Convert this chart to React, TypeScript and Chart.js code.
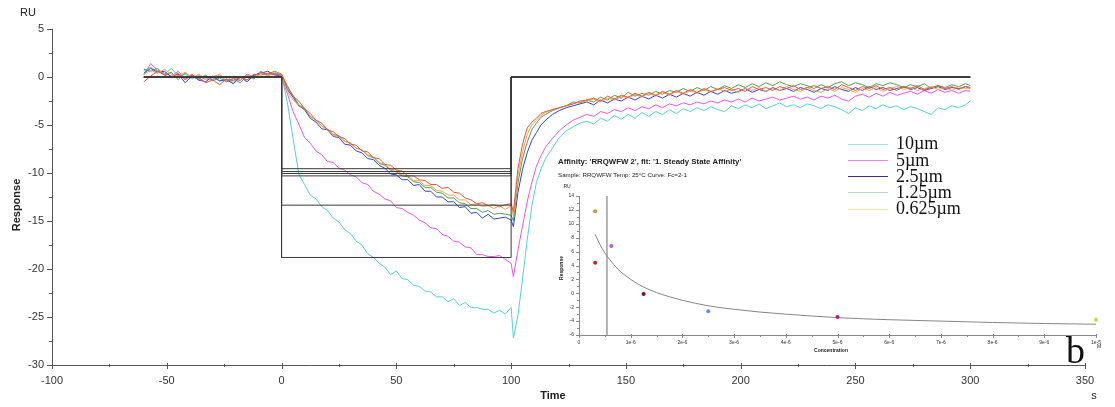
import React, { useEffect, useRef } from "react";
import { Chart, registerables } from "chart.js";
Chart.register(...registerables);

// ---------- time grid (s) ----------
function grid(start: number, end: number, step: number): number[] {
  const out: number[] = [];
  for (let v = start; v <= end + 1e-9; v += step) out.push(Math.round(v * 10) / 10);
  return out;
}
const TIME: number[] = [
  ...grid(-60, -3, 3),
  ...grid(0, 100, 2.5),
  101, 103, 105, 107, 109, 111, 113, 115, 118, 121, 124, 127, 130,
  ...grid(133, 298, 3), 300,
];

// ---------- sensorgram series (RU) ----------
const CYAN_10 = [
  0.6, 1.0, 0.6, 0.3, 0.9, 0.1, 0.3, -0.2, 0.2, -0.3, -0.1, -0.4, -0.2, -0.6, -0.1, -0.3, 0.1, 0.5, 0.2, 0.4,
  0.2, -2.6, -6.4, -10.1, -11.2, -12.3, -12.7, -13.5, -13.9, -14.7, -15.1, -15.9, -16.3, -17.1, -17.5, -18.4, -18.8, -19.4, -19.8, -20.6, -20.2, -21.0, -21.1, -21.7, -21.8, -22.3, -22.4, -22.9, -22.9, -23.4, -23.1, -23.8, -23.5, -24.0, -24.0, -24.2, -24.2, -24.6, -24.3, -24.7, -24.0,
  -27.2, -24.8, -21.0, -17.0, -13.5, -11.0, -9.6, -8.5, -7.4, -6.3, -5.6, -5.2, -4.8,
  -4.6, -4.9, -4.3, -4.6, -4.0, -4.4, -3.9, -4.3, -3.7, -4.1, -3.6, -3.9, -3.4, -3.8, -3.3, -3.6, -3.2, -3.5, -3.1, -3.4,
  -3.6, -3.0, -3.3, -2.9, -3.2, -2.8, -3.3, -3.0, -2.7, -3.1, -2.9, -3.2, -2.8, -3.0, -3.3, -2.9, -3.1, -3.4, -3.8, -3.2,
  -3.5, -3.0, -3.3, -2.9, -3.2, -3.0, -3.4, -3.1, -3.3, -3.6, -3.9, -3.2, -3.4, -3.0, -3.2, -2.9, -2.5,
];
const MAGENTA_5 = [
  0.2, 1.4, 0.7, 0.4, 0.1, 0.6, -0.2, 0.3, -0.4, 0.0, -0.3, 0.2, -0.5, -0.1, -0.4, 0.3, 0.0, 0.6, 0.2, 0.3,
  0.0, -1.7, -3.6, -4.9, -6.3, -6.9, -7.7, -8.1, -8.8, -8.9, -9.5, -9.7, -10.2, -10.4, -11.0, -11.2, -11.9, -12.2, -12.7, -12.9, -13.6, -13.7, -14.1, -14.4, -14.9, -15.2, -15.7, -15.8, -16.4, -16.6, -17.1, -17.2, -17.7, -17.8, -18.5, -18.5, -18.7, -18.7, -18.6, -19.0, -19.4,
  -20.8, -18.0, -15.5, -13.0, -11.0, -9.3, -8.2, -7.3, -6.4, -5.6, -5.0, -4.5, -4.2,
  -3.9, -4.1, -3.6, -3.8, -3.4, -3.6, -3.2, -3.5, -3.1, -3.3, -2.9, -3.2, -2.8, -3.0, -2.7, -2.9, -2.6, -2.8, -2.5, -2.7,
  -2.4, -2.6, -2.3, -2.6, -2.2, -2.5, -2.3, -2.1, -2.4, -2.2, -2.0, -2.3, -2.1, -2.4, -2.0, -2.2, -1.9, -2.3, -2.5, -2.0,
  -1.8, -2.1, -1.7, -2.0, -1.6, -1.9, -1.7, -1.5, -1.8, -1.4, -1.7, -1.3, -1.6, -1.4, -1.7, -1.4, -1.5,
];
const BLUE_2_5 = [
  0.4, 0.9, 0.5, 0.6, 0.0, 0.3, -0.6, 0.1, -0.3, -0.5, 0.1, -0.4, -0.3, -0.7, 0.0, -0.5, 0.2, 0.4, 0.6, 0.2,
  0.2, -1.3, -2.1, -3.0, -3.4, -4.3, -4.7, -5.4, -5.5, -6.2, -6.3, -7.0, -7.1, -7.7, -7.9, -8.5, -8.6, -9.2, -9.5, -10.1, -10.2, -10.7, -10.7, -11.3, -11.2, -11.9, -11.9, -12.5, -12.5, -13.0, -13.0, -13.6, -13.5, -14.2, -14.1, -14.7, -14.3, -14.8, -14.7, -14.6, -14.9,
  -15.6, -12.0, -9.6, -7.9, -6.6, -5.8, -5.0, -4.5, -3.9, -3.5, -3.2, -3.0, -2.8,
  -2.6, -2.9, -2.4, -2.7, -2.3, -2.5, -2.1, -2.4, -2.0, -2.3, -1.9, -2.2, -1.8, -2.1, -1.7, -2.0, -1.6, -1.9, -1.5, -1.8,
  -1.4, -1.7, -1.5, -1.2, -1.6, -1.3, -1.5, -1.1, -1.4, -1.2, -1.5, -1.1, -1.3, -1.6, -1.2, -1.4, -1.0, -1.3, -1.5, -1.1,
  -1.4, -1.0, -1.3, -1.1, -1.4, -1.2, -1.0, -1.3, -1.1, -1.4, -1.2, -1.0, -1.3, -1.1, -1.2, -1.0, -1.1,
];
const GREEN_1_25 = [
  0.8, 0.6, 0.9, 0.2, 0.5, -0.3, 0.4, 0.0, -0.2, 0.2, -0.4, -0.1, -0.5, -0.2, -0.6, 0.1, -0.2, 0.5, 0.3, 0.6,
  0.3, -1.1, -1.9, -2.9, -3.3, -4.1, -4.5, -5.1, -5.4, -6.0, -6.1, -6.7, -6.9, -7.4, -7.6, -8.2, -8.4, -9.0, -9.2, -9.7, -9.9, -10.3, -10.4, -10.9, -11.0, -11.5, -11.5, -12.0, -12.1, -12.6, -12.6, -13.1, -13.2, -13.7, -13.7, -14.1, -13.9, -14.3, -14.2, -14.3, -14.4,
  -15.0, -11.0, -8.5, -6.8, -5.5, -4.8, -4.2, -3.9, -3.5, -3.2, -3.0, -2.6, -2.7,
  -2.4, -2.6, -2.1, -2.4, -1.9, -2.2, -1.6, -2.0, -1.7, -1.9, -1.5, -1.8, -1.4, -1.6, -1.2, -1.5, -1.1, -1.4, -1.0, -1.3,
  -0.9, -1.2, -0.8, -1.1, -0.7, -1.0, -0.6, -0.9, -0.5, -0.8, -1.0, -0.7, -0.9, -1.2, -0.8, -1.1, -0.7, -0.5, -0.9, -0.6,
  -0.8, -1.1, -0.7, -0.9, -0.6, -0.8, -1.1, -0.8, -1.0, -0.7, -1.2, -0.9, -1.1, -0.8, -1.0, -0.7, -0.9,
];
const ORANGE_0_625 = [
  0.3, 0.7, 0.4, 0.8, 0.3, 0.1, 0.5, -0.1, 0.3, -0.2, 0.0, 0.3, -0.4, 0.1, -0.3, 0.2, -0.1, 0.4, 0.1, 0.5,
  0.2, -1.5, -2.4, -2.9, -3.2, -4.1, -4.5, -5.1, -5.5, -6.1, -6.2, -6.7, -6.9, -7.4, -7.6, -8.1, -8.3, -8.9, -9.1, -9.6, -9.7, -10.2, -10.3, -10.8, -10.8, -11.3, -11.3, -11.8, -11.9, -12.3, -12.3, -12.8, -12.8, -13.3, -13.2, -13.5, -13.4, -13.7, -13.4, -13.8, -13.4,
  -14.5, -10.2, -7.8, -6.0, -5.0, -4.5, -4.0, -3.7, -3.4, -3.2, -3.0, -2.8, -2.6,
  -2.5, -2.3, -2.6, -2.2, -2.4, -2.0, -2.2, -1.8, -2.1, -1.7, -2.0, -1.6, -1.9, -1.5, -1.8, -1.4, -1.7, -1.3, -1.6, -1.2,
  -1.5, -1.3, -1.6, -1.2, -1.4, -1.1, -1.5, -1.2, -1.4, -1.0, -1.3, -1.5, -1.1, -1.4, -1.6, -1.2, -1.5, -1.1, -1.3, -1.6,
  -1.2, -1.4, -1.1, -1.5, -1.2, -1.0, -1.3, -1.1, -1.4, -1.2, -1.0, -1.3, -1.1, -1.4, -1.0, -1.2, -1.1,
];
const RED_EXTRA = [
  -0.5, 0.1, 0.6, 0.2, -0.1, 0.4, -0.3, 0.2, -0.1, -0.6, -0.3, -0.8, -0.2, -0.4, 0.0, -0.3, 0.3, 0.2, 0.4, 0.3,
  0.3, -0.9, -2.0, -2.5, -3.3, -3.8, -4.5, -4.8, -5.5, -5.7, -6.2, -6.4, -7.0, -7.1, -7.7, -7.8, -8.4, -8.5, -9.1, -9.2, -9.7, -9.8, -10.3, -10.3, -10.7, -10.8, -11.2, -11.2, -11.6, -11.5, -12.0, -12.1, -12.6, -12.8, -13.2, -13.1, -13.4, -13.3, -13.5, -13.3, -13.2,
  -14.0, -9.5, -7.0, -5.3, -4.7, -4.3, -3.8, -3.6, -3.4, -3.2, -3.0, -2.8, -2.5,
  -2.4, -2.2, -2.5, -2.0, -2.3, -1.9, -2.1, -1.7, -2.0, -1.6, -1.9, -1.5, -1.8, -1.4, -1.7, -1.3, -1.6, -1.2, -1.5, -1.3,
  -1.1, -1.4, -1.2, -1.5, -1.0, -1.3, -1.1, -1.4, -1.0, -1.2, -0.9, -1.3, -1.1, -0.9, -1.2, -1.0, -1.3, -0.8, -1.1, -1.4,
  -1.0, -1.2, -0.9, -1.3, -1.1, -1.4, -1.0, -1.2, -0.9, -1.3, -1.1, -0.9, -1.2, -1.0, -1.3, -1.0, -1.2,
];

const SERIES = [RED_EXTRA, ORANGE_0_625, GREEN_1_25, BLUE_2_5, MAGENTA_5, CYAN_10];
const SERIES_COLORS = ["#ec5530", "#f2a24a", "#4f9e4f", "#3040d8", "#f050ee", "#4fd3d3"];

// steady-state fit levels (RU), injection start/end (s)
const FIT_LEVELS = [-9.55, -9.85, -10.05, -10.3, -13.35, -18.8];
const STEP_TIMES = [-60, 0, 0, 100, 100, 300];

// main axis ticks
const X_MINOR = [-75, -25, 25, 75, 125, 175, 225, 275, 325];
const Y_MINOR = [2.5, -2.5, -7.5, -12.5, -17.5, -22.5, -27.5];

// legend
const LEGEND_LABELS = ["10\u00b5m", "5\u00b5m", "2.5\u00b5m", "1.25\u00b5m", "0.625\u00b5m"];
const LEGEND_COLORS = ["#9fe9e4", "#f283e8", "#303094", "#b9dcc2", "#f1e1aa"];

// ---------- inset: steady state affinity ----------
const INSET_CONC = [0.3125, 0.3125, 0.625, 1.25, 2.5, 5, 10]; // µM
const INSET_RESP = [11.8, 4.4, 6.8, -0.1, -2.6, -3.4, -3.8];
const INSET_COLORS = ["#e88a30", "#e01818", "#b060e0", "#7a1020", "#5a90f0", "#d0107a", "#c8d830"];
const FIT_CONC = [0.31, 0.4, 0.5, 0.6, 0.75, 1.0, 1.25, 1.5, 2.0, 2.5, 3.0, 3.5, 4.0, 5.0, 6.0, 7.0, 8.0, 9.0, 10.0];
const FIT_RESP = [8.5, 7.1, 5.8, 4.8, 3.5, 2.0, 0.9, 0.1, -1.0, -1.8, -2.3, -2.7, -3.0, -3.5, -3.8, -4.0, -4.2, -4.35, -4.45];
const KD_CONC = 0.54;
const INSET_X_MINOR = [0.5, 1.5, 2.5, 3.5, 4.5, 5.5, 6.5, 7.5, 8.5, 9.5];
const INSET_Y_MINOR = [13, 11, 9, 7, 5, 3, 1, -1, -3, -5];

const SANS = "'Liberation Sans', Arial, sans-serif";

function tickPlugin(id: string, xMinor: number[], yMinor: number[], color: string, xMaj: [number, number], xMin: [number, number], yMaj: [number, number], yMin: [number, number]) {
  return {
    id,
    afterDraw(chart: any) {
      const { ctx, chartArea, scales } = chart;
      const xs = scales.x, ys = scales.y;
      ctx.save();
      ctx.strokeStyle = color;
      ctx.lineWidth = 1;
      ctx.beginPath();
      const b = chartArea.bottom, l = chartArea.left;
      const xl = (v: number, r: [number, number]) => {
        const px = Math.round(xs.getPixelForValue(v)) + 0.5;
        ctx.moveTo(px, b - r[0]);
        ctx.lineTo(px, b + r[1]);
      };
      const yl = (v: number, r: [number, number]) => {
        const py = Math.round(ys.getPixelForValue(v)) + 0.5;
        ctx.moveTo(l - r[1], py);
        ctx.lineTo(l + r[0], py);
      };
      xs.ticks.forEach((t: any) => xl(t.value, xMaj));
      xMinor.forEach((v) => xl(v, xMin));
      ys.ticks.forEach((t: any) => yl(t.value, yMaj));
      yMinor.forEach((v) => yl(v, yMin));
      ctx.stroke();
      ctx.restore();
    },
  };
}

const mainLabels = {
  id: "mainLabels",
  afterDraw(chart: any) {
    const ctx = chart.ctx;
    ctx.save();
    ctx.fillStyle = "#222";
    ctx.textAlign = "center";
    ctx.textBaseline = "middle";
    ctx.font = `11px ${SANS}`;
    ctx.fillText("RU", 28, 13);
    ctx.fillText("s", 1094, 396);
    ctx.font = `bold 11px ${SANS}`;
    ctx.fillText("Time", 553, 396);
    ctx.translate(17, 205);
    ctx.rotate(-Math.PI / 2);
    ctx.fillText("Response", 0, 0);
    ctx.restore();
  },
};

const insetLabels = {
  id: "insetLabels",
  afterDraw(chart: any) {
    const ctx = chart.ctx;
    ctx.save();
    ctx.fillStyle = "#222";
    ctx.textBaseline = "middle";
    ctx.textAlign = "left";
    ctx.font = `bold 7.8px ${SANS}`;
    ctx.fillText("Affinity: 'RRQWFW 2', fit: '1. Steady State Affinity'", 18, 12);
    ctx.font = `6.2px ${SANS}`;
    ctx.fillText("Sample: RRQWFW Temp: 25\u00b0C Curve: Fc=2-1", 18, 25);
    ctx.textAlign = "center";
    ctx.font = `5px ${SANS}`;
    ctx.fillText("RU", 27, 37);
    ctx.fillText("M", 559, 197);
    ctx.font = `bold 5px ${SANS}`;
    ctx.fillText("Concentration", 291, 201);
    ctx.translate(22, 118);
    ctx.rotate(-Math.PI / 2);
    ctx.fillText("Response", 0, 0);
    ctx.restore();
  },
};

export default function App() {
  const mainRef = useRef<HTMLCanvasElement>(null);
  const insetRef = useRef<HTMLCanvasElement>(null);

  useEffect(() => {
    const curveSets = SERIES.map((vals, i) => ({
      data: vals.map((v, k) => ({ x: TIME[k], y: v })),
      borderColor: SERIES_COLORS[i],
      borderWidth: 1,
      showLine: true,
      pointRadius: 0,
      order: i + 1,
    }));
    const stepSets = FIT_LEVELS.map((lvl) => ({
      data: STEP_TIMES.map((t, k) => ({ x: t, y: k === 2 || k === 3 ? lvl : 0 })),
      borderColor: "#3a3a3a",
      borderWidth: 1,
      showLine: true,
      pointRadius: 0,
      order: 0,
    }));

    const main = new Chart(mainRef.current!, {
      type: "scatter",
      data: { datasets: [...stepSets, ...curveSets] as any },
      options: {
        animation: false,
        responsive: true,
        maintainAspectRatio: false,
        events: [],
        layout: { padding: { left: 0, right: 30, top: 29, bottom: 0 } },
        plugins: { legend: { display: false }, tooltip: { enabled: false } },
        scales: {
          x: {
            type: "linear",
            min: -100,
            max: 350,
            afterFit: (s: any) => { s.height = 42; },
            grid: { display: false, drawTicks: false },
            border: { display: true, color: "#555", width: 1 },
            ticks: { stepSize: 50, padding: 9, color: "#333", font: { family: SANS, size: 11 }, maxRotation: 0, autoSkip: false },
          },
          y: {
            type: "linear",
            min: -30,
            max: 5,
            afterFit: (s: any) => { s.width = 52; },
            grid: { display: false, drawTicks: false },
            border: { display: true, color: "#555", width: 1 },
            ticks: { stepSize: 5, padding: 8, color: "#333", font: { family: SANS, size: 11 }, autoSkip: false },
          },
        },
      } as any,
      plugins: [tickPlugin("mainTicks", X_MINOR, Y_MINOR, "#555", [2, 4], [1, 2], [1, 5], [1, 3]), mainLabels],
    });

    const inset = new Chart(insetRef.current!, {
      type: "scatter",
      data: {
        datasets: [
          {
            data: INSET_CONC.map((c, i) => ({ x: c, y: INSET_RESP[i] })),
            pointBackgroundColor: INSET_COLORS,
            pointBorderColor: INSET_COLORS,
            pointRadius: 2,
            pointBorderWidth: 0,
            showLine: false,
            clip: false,
            order: 0,
          },
          {
            data: FIT_CONC.map((c, i) => ({ x: c, y: FIT_RESP[i] })),
            borderColor: "#858585",
            borderWidth: 1,
            showLine: true,
            pointRadius: 0,
            cubicInterpolationMode: "monotone",
            order: 1,
          },
          {
            data: [{ x: KD_CONC, y: 14 }, { x: KD_CONC, y: -6 }],
            borderColor: "#a8a8a8",
            borderWidth: 1,
            showLine: true,
            pointRadius: 0,
            order: 2,
          },
        ] as any,
      },
      options: {
        animation: false,
        responsive: true,
        maintainAspectRatio: false,
        events: [],
        layout: { padding: { left: 0, right: 14, top: 46, bottom: 0 } },
        plugins: { legend: { display: false }, tooltip: { enabled: false } },
        scales: {
          x: {
            type: "linear",
            min: 0,
            max: 10,
            afterFit: (s: any) => { s.height = 25; },
            grid: { display: false, drawTicks: false },
            border: { display: true, color: "#888", width: 1 },
            ticks: {
              stepSize: 1,
              padding: 5,
              color: "#333",
              font: { family: SANS, size: 5 },
              maxRotation: 0,
              autoSkip: false,
              callback: (v: any) => (v === 0 ? "0" : v === 10 ? "1e-5" : `${Math.round(v)}e-6`),
            },
          },
          y: {
            type: "linear",
            min: -6,
            max: 14,
            afterFit: (s: any) => { s.width = 39; },
            grid: { display: false, drawTicks: false },
            border: { display: true, color: "#888", width: 1 },
            ticks: { stepSize: 2, padding: 5, color: "#333", font: { family: SANS, size: 5 }, autoSkip: false },
          },
        },
      } as any,
      plugins: [tickPlugin("insetTicks", INSET_X_MINOR, INSET_Y_MINOR, "#888", [1, 3], [0, 2], [1, 3], [0, 2]), insetLabels],
    });

    return () => {
      main.destroy();
      inset.destroy();
    };
  }, []);

  const legendRowsY = [144, 160.5, 176.7, 192.7, 209];

  return (
    <div style={{ position: "fixed", left: 0, top: 0, width: 1115, height: 407, background: "#fff", overflow: "hidden" }}>
      <div style={{ position: "absolute", left: 0, top: 0, width: 1115, height: 407 }}>
        <canvas ref={mainRef} />
      </div>
      <div style={{ position: "absolute", left: 540, top: 150, width: 570, height: 210 }}>
        <canvas ref={insetRef} />
      </div>
      {LEGEND_LABELS.map((label, i) => (
        <React.Fragment key={label}>
          <div
            style={{
              position: "absolute",
              left: 848,
              top: legendRowsY[i] - 0.5,
              width: 40,
              height: 1,
              background: LEGEND_COLORS[i],
            }}
          />
          <div
            style={{
              position: "absolute",
              left: 896,
              top: legendRowsY[i] - 10,
              font: "18px 'Liberation Serif', 'Times New Roman', serif",
              lineHeight: "18px",
              color: "#111",
              whiteSpace: "nowrap",
            }}
          >
            {label}
          </div>
        </React.Fragment>
      ))}
      <div
        style={{
          position: "absolute",
          left: 1066,
          top: 331,
          font: "38px 'Liberation Serif', 'Times New Roman', serif",
          lineHeight: "38px",
          color: "#111",
        }}
      >
        b
      </div>
    </div>
  );
}
